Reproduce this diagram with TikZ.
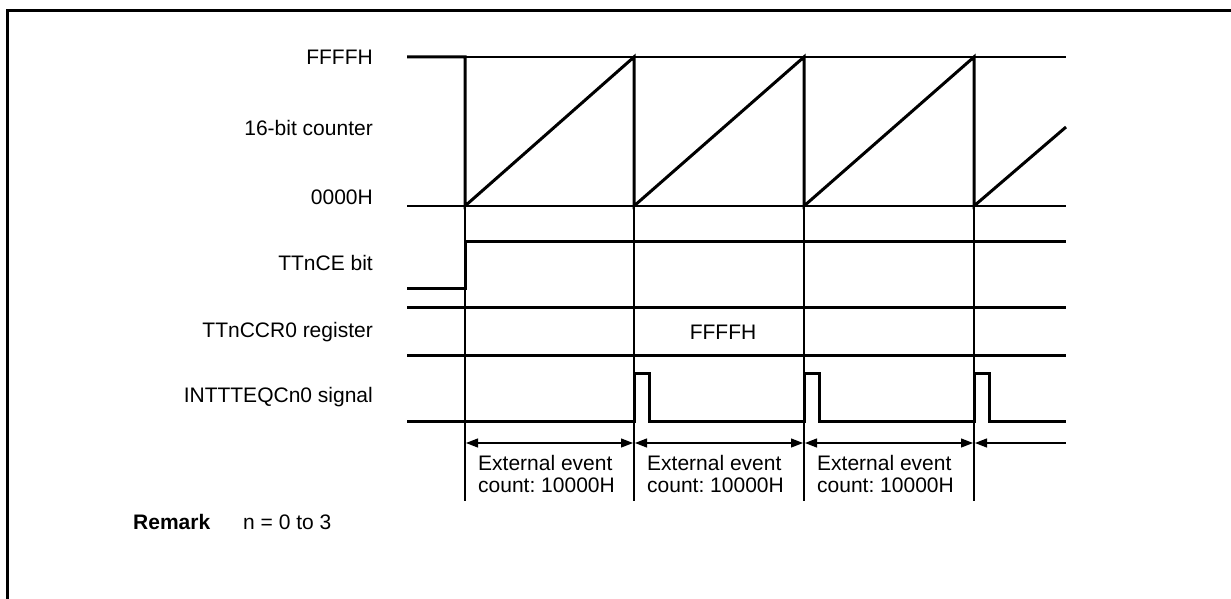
\documentclass[tikz,border=0pt]{standalone}
\usepackage{fontspec}
\setmainfont{Liberation Sans}
\usetikzlibrary{arrows.meta}
\frenchspacing
\begin{document}
\begin{tikzpicture}[x=1pt,y=-1pt,
  wave/.style={line width=3pt,line cap=butt,line join=miter},
  thin/.style={line width=1.3pt},
  lbl/.style={anchor=east,inner sep=0pt,font=\fontsize{21}{22}\selectfont},
  txt/.style={inner sep=0pt,font=\fontsize{21}{22}\selectfont},
  dim/.style={line width=1.2pt,{Triangle[length=12pt,width=9pt]}-{Triangle[length=12pt,width=9pt]}},
  diml/.style={line width=1.2pt,{Triangle[length=12pt,width=9pt]}-}]
\useasboundingbox (0,0) rectangle (1231,599);
% frame
\draw[line width=3pt] (7,599) -- (7,11) -- (1231,11);
% labels
\node[lbl] (lF) at (373,57) {FFFFH};
\node[lbl] (lC) at (373,128) {16-bit counter};
\node[lbl] (l0) at (373,197) {0000H};
\node[lbl] (lCE) at (373,263) {TTnCE bit};
\node[lbl] (lCCR) at (373,332) {TTnCCR0 register};
\node[lbl] (lINT) at (373,397) {INTTTEQCn0 signal};
% guides
\draw[thin] (465,57) -- (1066,57);
\draw[thin] (407,206) -- (1066,206);
\foreach \x in {465,634,804,974} \draw[thin] (\x,206) -- (\x,501);
% counter
\draw[wave] (407,57) -- (465,57) -- (465,206) -- (634,57) -- (634,206) -- (804,57) -- (804,206) -- (974,57) -- (974,206) -- (1066,127);
% TTnCE
\draw[wave] (407,288) -- (465,288) -- (465,241) -- (1066,241);
% TTnCCR0
\draw[wave] (407,307) -- (1066,307);
\draw[wave] (407,355) -- (1066,355);
\node[txt] (vF) at (723,332) {FFFFH};
% INT
\draw[wave] (407,421) -- (634,421) -- (634,373) -- (649,373) -- (649,421) -- (804,421) -- (804,373) -- (819,373) -- (819,421) -- (974,421) -- (974,373) -- (989,373) -- (989,421) -- (1066,421);
% dimension arrows
\draw[dim] (466,443) -- (633,443);
\draw[dim] (635,443) -- (803,443);
\draw[dim] (805,443) -- (973,443);
\draw[diml] (975,443) -- (1066,443);
\foreach \x/\n in {478/a,647/b,817/c}{
  \node[txt,anchor=west] (e1\n) at (\x,463) {External event};
  \node[txt,anchor=west] (e2\n) at (\x,485) {count: 10000H};
}
\node[txt,anchor=west] (rem) at (133,522) {\textbf{Remark}};
\node[txt,anchor=west] (remn) at (243,522) {n = 0 to 3};
\end{tikzpicture}
\end{document}
